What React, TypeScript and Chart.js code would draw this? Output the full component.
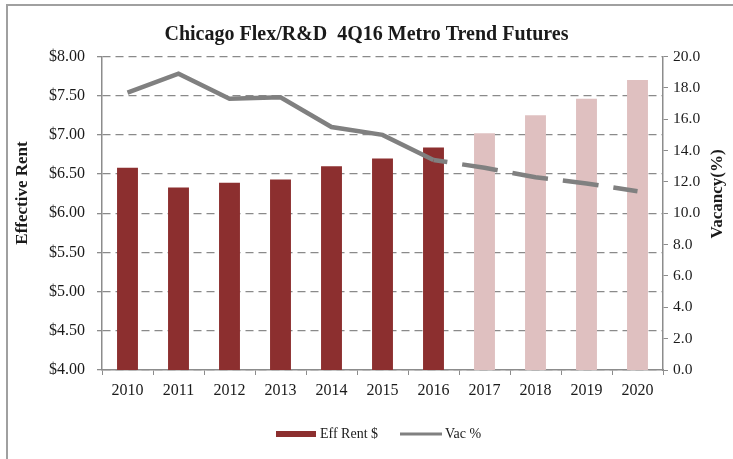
import React, { useEffect, useRef } from "react";
import { Chart, registerables } from "chart.js";

Chart.register(...registerables);

const categories = ["2010", "2011", "2012", "2013", "2014", "2015", "2016", "2017", "2018", "2019", "2020"];
const effRent = [6.58, 6.33, 6.39, 6.43, 6.6, 6.7, 6.84, 7.02, 7.25, 7.46, 7.7];
const vacancy = [17.7, 18.9, 17.3, 17.4, 15.5, 15.0, 13.4, 12.9, 12.3, 11.9, 11.4];
const forecastStartIndex = 7;

const titleText = "Chicago Flex/R&D  4Q16 Metro Trend Futures";
const leftTitle = "Effective Rent";
const rightTitle = "Vacancy(%)";
const barLabel = "Eff Rent $";
const lineLabel = "Vac %";

const DARK_RED = "#8c2f2f";
const PINK = "#dfc0c0";
const GRAY_LINE = "#808080";
const AXIS = "#8c8c8c";
const TEXT = "#1a1a1a";
const SERIF = "'Liberation Serif', 'Times New Roman', serif";

const decorPlugin = {
  id: "decor",
  beforeDraw(chart: any) {
    const ctx = chart.ctx;
    ctx.save();
    ctx.strokeStyle = "#a0a0a0";
    ctx.lineWidth = 2;
    ctx.beginPath();
    ctx.moveTo(7, 459);
    ctx.lineTo(7, 5);
    ctx.lineTo(733, 5);
    ctx.stroke();
    ctx.restore();
  },
  afterDraw(chart: any) {
    const ctx = chart.ctx;
    ctx.save();
    ctx.fillStyle = TEXT;
    ctx.font = `bold 17px ${SERIF}`;
    ctx.textAlign = "center";
    ctx.textBaseline = "middle";
    ctx.translate(23, 193);
    ctx.rotate(-Math.PI / 2);
    ctx.fillText(leftTitle, 0, 0);
    ctx.restore();

    ctx.save();
    ctx.fillStyle = TEXT;
    ctx.font = `bold 17px ${SERIF}`;
    ctx.textAlign = "center";
    ctx.textBaseline = "middle";
    ctx.translate(718, 194);
    ctx.rotate(-Math.PI / 2);
    ctx.fillText(rightTitle, 0, 0);
    ctx.restore();

    // legend
    ctx.save();
    ctx.fillStyle = DARK_RED;
    ctx.fillRect(276, 431, 40, 6);
    ctx.fillStyle = TEXT;
    ctx.font = `14px ${SERIF}`;
    ctx.textAlign = "left";
    ctx.textBaseline = "middle";
    ctx.fillText(barLabel, 320, 434);
    ctx.strokeStyle = GRAY_LINE;
    ctx.lineWidth = 3;
    ctx.beginPath();
    ctx.moveTo(400, 434);
    ctx.lineTo(442, 434);
    ctx.stroke();
    ctx.fillText(lineLabel, 445, 434);
    ctx.restore();
  },
};

export default function App() {
  const ref = useRef<HTMLCanvasElement | null>(null);

  useEffect(() => {
    if (!ref.current) return;
    const chart = new Chart(ref.current, {
      type: "bar",
      data: {
        labels: categories,
        datasets: [
          {
            type: "bar",
            label: barLabel,
            data: effRent,
            yAxisID: "y",
            order: 2,
            backgroundColor: effRent.map((_, i) => (i < forecastStartIndex ? DARK_RED : PINK)),
            borderWidth: 0,
            barPercentage: 0.41,
            categoryPercentage: 1,
          },
          {
            type: "line",
            label: lineLabel,
            data: vacancy,
            yAxisID: "y2",
            order: 1,
            borderColor: GRAY_LINE,
            borderWidth: 4.5,
            pointRadius: 0,
            tension: 0,
            segment: {
              borderDash: (ctx: any) => (ctx.p0DataIndex >= 6 ? [36, 15] : undefined),
              borderDashOffset: (ctx: any) => (ctx.p0DataIndex >= 6 ? 22 : undefined),
            },
          } as any,
        ],
      },
      options: {
        animation: false,
        responsive: false,
        maintainAspectRatio: false,
        layout: { padding: 0 },
        plugins: {
          legend: { display: false },
          tooltip: { enabled: false },
          title: {
            display: true,
            text: titleText,
            color: TEXT,
            font: { family: SERIF, size: 20, weight: "bold" },
            padding: { top: 23, bottom: 9.5 },
          },
        },
        scales: {
          x: {
            afterFit: (s: any) => {
              s.height = 89;
            },
            grid: {
              display: true,
              drawOnChartArea: false,
              drawTicks: true,
              tickLength: 5,
              color: AXIS,
              offset: true,
            },
            border: { display: true, color: AXIS, width: 1.5 },
            ticks: {
              color: TEXT,
              font: { family: SERIF, size: 16 },
              padding: 6,
              maxRotation: 0,
            },
          },
          y: {
            position: "left",
            min: 4,
            max: 8,
            afterFit: (s: any) => {
              s.width = 102;
            },
            ticks: {
              stepSize: 0.5,
              color: TEXT,
              font: { family: SERIF, size: 16 },
              padding: 12,
              callback: (v: any) => "$" + Number(v).toFixed(2),
            },
            grid: {
              color: "#8a8a8a",
              lineWidth: 1.3,
              drawTicks: true,
              tickLength: 5,
              tickColor: AXIS,
            },
            border: { display: true, color: AXIS, width: 1.5, dash: [8, 5] },
          },
          y2: {
            position: "right",
            min: 0,
            max: 20,
            afterFit: (s: any) => {
              s.width = 70;
            },
            ticks: {
              stepSize: 2,
              color: TEXT,
              font: { family: SERIF, size: 15.5 },
              padding: 5,
              callback: (v: any) => Number(v).toFixed(1),
            },
            grid: {
              drawOnChartArea: false,
              drawTicks: true,
              tickLength: 5,
              color: AXIS,
            },
            border: { display: true, color: AXIS, width: 1.5 },
          },
        },
      } as any,
      plugins: [decorPlugin],
    });
    return () => chart.destroy();
  }, []);

  return (
    <div style={{ position: "fixed", left: 0, top: 0, width: 733, height: 459, background: "#fff" }}>
      <canvas ref={ref} width={733} height={459} style={{ width: 733, height: 459, display: "block" }} />
    </div>
  );
}
